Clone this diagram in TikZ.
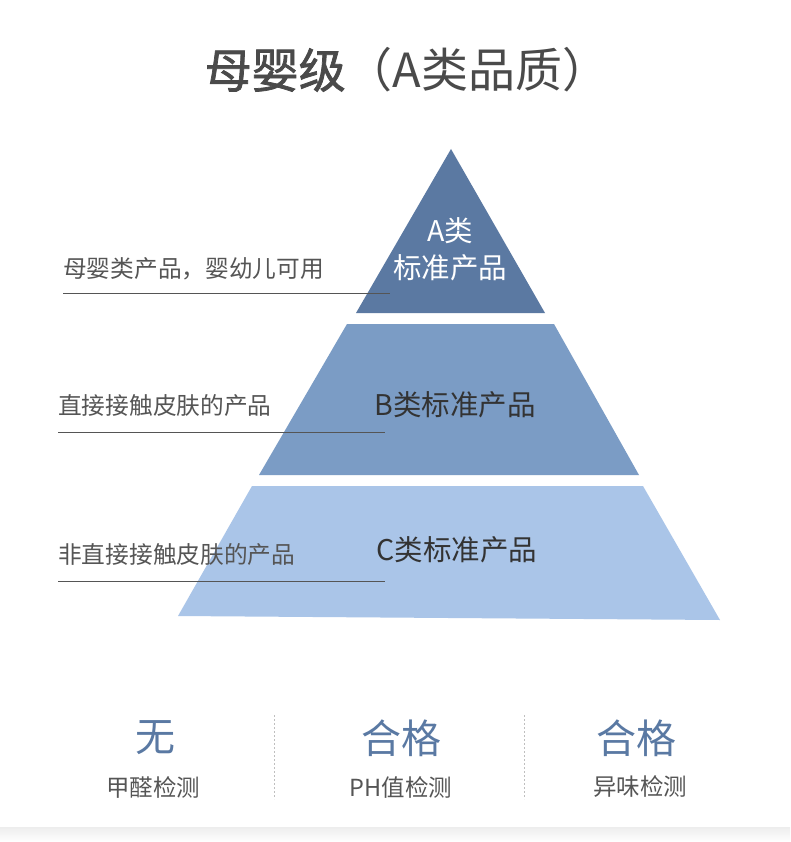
\documentclass[tikz,border=0pt]{standalone}
\usepackage{fontspec}
\setmainfont{Noto Sans CJK SC}
\newfontfamily\cjkheavy[FakeBold=1.6]{Noto Sans CJK SC}
\definecolor{cA}{HTML}{5B79A2}
\definecolor{cB}{HTML}{7B9CC5}
\definecolor{cC}{HTML}{AAC5E8}
\definecolor{tblue}{HTML}{5A79A3}
\definecolor{tdark}{HTML}{333333}
\definecolor{tgray}{HTML}{555555}
\definecolor{ttitle}{HTML}{4A4A4A}
\tikzset{
  sidelabel/.style={anchor=base west, inner sep=0pt, font=\fontsize{23.7}{28}\selectfont, text=tgray},
  sideline/.style={draw=tgray, line width=0.9pt},
  layerlabel/.style={inner sep=0pt, font=\fontsize{28.5}{33}\selectfont, text=tdark, align=center},
  resval/.style={inner sep=0pt, font=\fontsize{40}{45}\selectfont, text=tblue},
  reslabel/.style={inner sep=0pt, font=\fontsize{23.5}{28}\selectfont, text=tgray},
  sep/.style={draw=black!25, dash pattern=on 2pt off 2pt, line width=0.6pt}
}
\begin{document}
\begin{tikzpicture}[x=1pt,y=-1pt]
\useasboundingbox (0,0) rectangle (790,842);
\fill[white] (0,0) rectangle (790,842);
% bottom shadow band
\shade[top color=black!7, bottom color=white] (0,827) rectangle (790,842);
% title
\node[inner sep=0pt, text=ttitle] (title) at (407,70)
  {{\fontsize{47}{52}\selectfont\cjkheavy 母婴级}{\fontsize{47}{52}\selectfont （A类品质）}};
% pyramid layers
\fill[cA] (451,149) -- (545,313) -- (356,313) -- cycle;
\fill[cB] (347,324) -- (554,324) -- (639,475) -- (259,475) -- cycle;
\fill[cC] (252,486) -- (643,486) -- (720,620) -- (178,616) -- cycle;
% layer labels
\node[layerlabel, text=white] (la1) at (450,231) {A类};
\node[layerlabel, text=white] (la2) at (450,268) {标准产品};
\node[layerlabel] (lb) at (455,405) {B类标准产品};
\node[layerlabel] (lc) at (457,550) {C类标准产品};
% side labels and lines
\node[sidelabel] (s1) at (63,277) {母婴类产品，婴幼儿可用};
\coordinate (s1a) at (63,293); \coordinate (s1b) at (390,293);
\draw[sideline] (s1a) -- (s1b);
\node[sidelabel] (s2) at (58,414) {直接接触皮肤的产品};
\coordinate (s2a) at (58,432); \coordinate (s2b) at (385,432);
\draw[sideline] (s2a) -- (s2b);
\node[sidelabel] (s3) at (58,563) {非直接接触皮肤的产品};
\coordinate (s3a) at (58,581); \coordinate (s3b) at (385,581);
\draw[sideline] (s3a) -- (s3b);
% results
\node[resval] (r1) at (155,738) {无};
\node[reslabel] (r1l) at (153,787) {甲醛检测};
\node[resval] (r2) at (401,738) {合格};
\node[reslabel] (r2l) at (401,787) {PH值检测};
\node[resval] (r3) at (636,738) {合格};
\node[reslabel] (r3l) at (640,787) {异味检测};
\coordinate (d1a) at (274,715); \coordinate (d1b) at (274,799);
\coordinate (d2a) at (524,715); \coordinate (d2b) at (524,799);
\draw[sep] (d1a) -- (d1b);
\draw[sep] (d2a) -- (d2b);
\end{tikzpicture}
\end{document}
